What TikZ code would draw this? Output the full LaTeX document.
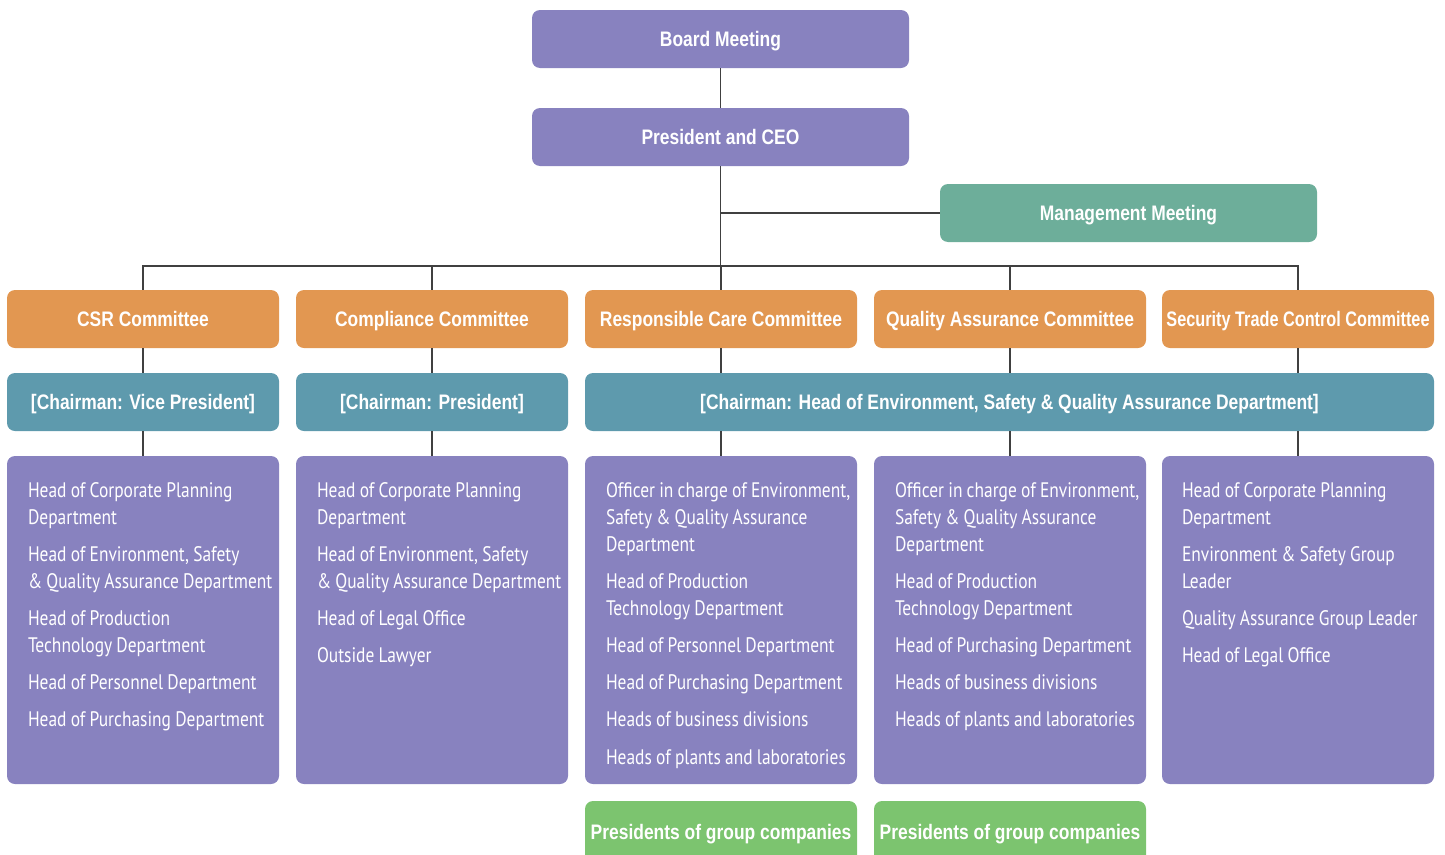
\documentclass[tikz,border=0pt]{standalone}
\usepackage{fontspec}
\setmainfont{Liberation Sans}[FakeStretch=0.83]
\newfontfamily\tightbold{Liberation Sans}[FakeStretch=0.775]
\newfontfamily\listfont{PT Sans}[FakeStretch=0.83]
\newcommand\listspacing{\spaceskip=4.2pt plus 1pt\relax}
\usetikzlibrary{positioning}

\definecolor{orgpurple}{HTML}{8882BF}
\definecolor{orgorange}{HTML}{E29751}
\definecolor{orgteal}{HTML}{5E9AAD}
\definecolor{orgmint}{HTML}{6DAE9A}
\definecolor{orggreen}{HTML}{7CC46F}
\definecolor{orgline}{HTML}{404040}

\tikzset{
  box/.style={rounded corners=8pt, inner sep=0pt, text=white, align=center,
    text height=15pt, text depth=0pt,
    font=\bfseries\fontsize{21}{24}\selectfont},
  topbox/.style={box, fill=orgpurple, minimum width=377pt, minimum height=58pt},
  mgmtbox/.style={box, fill=orgmint, minimum width=377pt, minimum height=58pt},
  committee/.style={box, fill=orgorange, minimum width=272pt, minimum height=58pt},
  chairbox/.style={box, fill=orgteal, minimum height=58pt},
  listbox/.style={rounded corners=8pt, fill=orgpurple, minimum width=272pt,
    minimum height=328pt, inner sep=0pt},
  listtext/.style={anchor=north west, inner sep=0pt, text=white, align=left,
    text width=262pt, execute at begin node=\listspacing,
    font=\listfont\fontsize{21}{26.7}\selectfont},
  groupbox/.style={box, fill=orggreen, minimum width=272pt, minimum height=62pt},
  link/.style={draw=orgline, line width=1.3pt}
}

\begin{document}
\begin{tikzpicture}[x=1pt,y=1pt]
  \useasboundingbox (0,0) rectangle (1445,-854);

  % top of the chart
  \node[topbox] (board) at (720.5,-39) {Board Meeting};
  \node[topbox] (ceo) at (720.5,-137) {President and CEO};
  \node[mgmtbox] (mgmt) at (1128.5,-213) {Management Meeting};
  \coordinate (bus) at (720.5,-266);

  % committees
  \node[committee] (csr) at (143,-319) {CSR Committee};
  \node[committee] (comp) at (432,-319) {Compliance Committee};
  \node[committee] (resp) at (721,-319) {Responsible Care Committee};
  \node[committee] (qa) at (1010,-319) {Quality Assurance Committee};
  \node[committee] (sec) at (1298,-319) {\tightbold Security Trade Control Committee};

  % chairmen
  \node[chairbox, minimum width=272pt] (csrchair) at (143,-402) {[Chairman: Vice President]};
  \node[chairbox, minimum width=272pt] (compchair) at (432,-402) {[Chairman: President]};
  \node[chairbox, minimum width=849pt] (esqchair) at (1009.5,-402)
    {[Chairman: Head of Environment, Safety \& Quality Assurance Department]};

  % members
  \node[listbox] (csrlist) at (143,-620) {};
  \node[listbox] (complist) at (432,-620) {};
  \node[listbox] (resplist) at (721,-620) {};
  \node[listbox] (qalist) at (1010,-620) {};
  \node[listbox] (seclist) at (1298,-620) {};

  \node[listtext] (csrtext) at ([xshift=21pt,yshift=-27pt]csrlist.north west)
    {Head of Corporate Planning\\Department\\[10.5pt]
     Head of Environment, Safety\\\& Quality Assurance Department\\[10.5pt]
     Head of Production\\Technology Department\\[10.5pt]
     Head of Personnel Department\\[10.5pt]
     Head of Purchasing Department};
  \node[listtext] (comptext) at ([xshift=21pt,yshift=-27pt]complist.north west)
    {Head of Corporate Planning\\Department\\[10.5pt]
     Head of Environment, Safety\\\& Quality Assurance Department\\[10.5pt]
     Head of Legal Office\\[10.5pt]
     Outside Lawyer};
  \node[listtext] (resptext) at ([xshift=21pt,yshift=-27pt]resplist.north west)
    {Officer in charge of Environment,\\Safety \& Quality Assurance\\Department\\[10.5pt]
     Head of Production\\Technology Department\\[10.5pt]
     Head of Personnel Department\\[10.5pt]
     Head of Purchasing Department\\[10.5pt]
     Heads of business divisions\\[10.5pt]
     Heads of plants and laboratories};
  \node[listtext] (qatext) at ([xshift=21pt,yshift=-27pt]qalist.north west)
    {Officer in charge of Environment,\\Safety \& Quality Assurance\\Department\\[10.5pt]
     Head of Production\\Technology Department\\[10.5pt]
     Head of Purchasing Department\\[10.5pt]
     Heads of business divisions\\[10.5pt]
     Heads of plants and laboratories};
  \node[listtext] (sectext) at ([xshift=20pt,yshift=-27pt]seclist.north west)
    {Head of Corporate Planning\\Department\\[10.5pt]
     Environment \& Safety Group\\Leader\\[10.5pt]
     Quality Assurance Group Leader\\[10.5pt]
     Head of Legal Office};

  % group companies
  \node[groupbox] (respgroup) at (721,-832) {Presidents of group companies};
  \node[groupbox] (qagroup) at (1010,-832) {Presidents of group companies};

  % connectors
  \draw[link] (board.south) -- (ceo.north);
  \draw[link] (ceo.south) -- (bus);
  \draw[link] (ceo.south |- mgmt.west) -- (mgmt.west);
  \draw[link] (csr.north) -- (csr.north |- bus) -| (sec.north);
  \foreach \c in {comp,resp,qa}
    \draw[link] (\c.north) -- (\c.north |- bus);
  \draw[link] (csr.south) -- (csrchair.north);
  \draw[link] (comp.south) -- (compchair.north);
  \draw[link] (csrchair.south) -- (csrlist.north);
  \draw[link] (compchair.south) -- (complist.north);
  \foreach \c in {resp,qa,sec} {
    \draw[link] (\c.south) -- (\c.south |- esqchair.north);
    \draw[link] (\c list.north |- esqchair.south) -- (\c list.north);
  }
\end{tikzpicture}
\end{document}
